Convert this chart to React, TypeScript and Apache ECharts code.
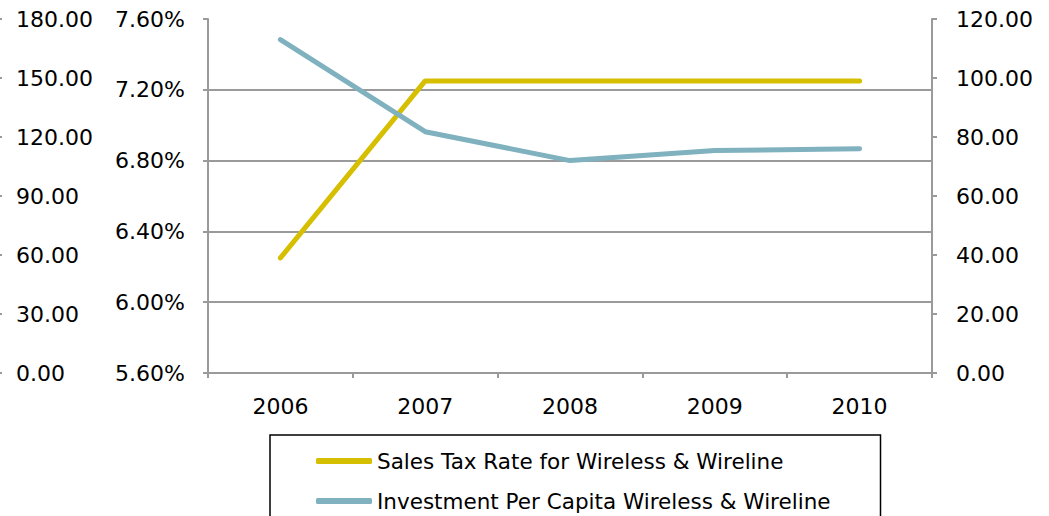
import React, { useEffect, useRef } from "react";
import * as echarts from "echarts";

const years = ["2006", "2007", "2008", "2009", "2010"];
const salesTaxRate = [6.25, 7.25, 7.25, 7.25, 7.25];
const investmentPerCapita = [113.0, 81.8, 72.0, 75.4, 76.0];
const seriesNames = [
  "Sales Tax Rate for Wireless & Wireline",
  "Investment Per Capita Wireless & Wireline",
];

const FONT = "DejaVu Sans";
const GREY = "#9a9a9a";

export default function App() {
  const ref = useRef<HTMLDivElement>(null);
  useEffect(() => {
    document.body.style.margin = "0";
    document.body.style.overflow = "hidden";
    if (!ref.current) return;
    const chart = echarts.init(ref.current, null, { renderer: "svg" });
    const labelStyle = { color: "#000", fontFamily: FONT, fontSize: 22 };
    chart.setOption({
      animation: false,
      backgroundColor: "#fff",
      grid: { left: 208, right: 117, top: 19, bottom: 143 },
      xAxis: {
        type: "category",
        data: years,
        boundaryGap: true,
        axisLine: { lineStyle: { color: GREY, width: 2 } },
        axisTick: { show: true, length: 5, lineStyle: { color: GREY, width: 2 } },
        axisLabel: { ...labelStyle, margin: 22 },
        splitLine: { show: false },
      },
      yAxis: [
        {
          type: "value",
          position: "left",
          min: 5.6,
          max: 7.6,
          interval: 0.4,
          axisLine: { show: true, lineStyle: { color: GREY, width: 2 } },
          axisTick: { show: true, length: 5, lineStyle: { color: GREY, width: 2 } },
          axisLabel: {
            ...labelStyle,
            margin: 23,
            formatter: (v: number) => v.toFixed(2) + "%",
          },
          splitLine: {
            show: true,
            showMinLine: false,
            showMaxLine: false,
            lineStyle: { color: GREY, width: 2 },
          },
        },
        {
          type: "value",
          position: "right",
          min: 0,
          max: 120,
          interval: 20,
          axisLine: { show: true, lineStyle: { color: GREY, width: 2 } },
          axisTick: { show: true, length: 5, lineStyle: { color: GREY, width: 2 } },
          axisLabel: {
            ...labelStyle,
            margin: 24,
            formatter: (v: number) => v.toFixed(2),
          },
          splitLine: { show: false },
        },
        {
          type: "value",
          position: "left",
          offset: 210,
          min: 0,
          max: 180,
          interval: 30,
          axisLine: { show: true, lineStyle: { color: GREY, width: 2 } },
          axisTick: { show: true, inside: true, length: 4, lineStyle: { color: GREY, width: 2 } },
          axisLabel: {
            ...labelStyle,
            inside: true,
            margin: 18,
            formatter: (v: number) => v.toFixed(2),
          },
          splitLine: { show: false },
        },
      ],
      legend: {
        orient: "vertical",
        left: 270,
        top: 435,
        height: 200,
        padding: [14, 50, 20, 46],
        borderColor: "#000",
        borderWidth: 1.5,
        backgroundColor: "#fff",
        itemWidth: 56,
        itemHeight: 6,
        itemGap: 16,
        icon: "roundRect",
        textStyle: { color: "#000", fontFamily: FONT, fontSize: 21.5, lineHeight: 24 },
        data: seriesNames,
      },
      series: [
        {
          name: seriesNames[0],
          type: "line",
          yAxisIndex: 0,
          data: salesTaxRate,
          symbol: "none",
          color: "#D6BE00",
          lineStyle: { width: 5, cap: "round", join: "round", color: "#D6BE00" },
        },
        {
          name: seriesNames[1],
          type: "line",
          yAxisIndex: 1,
          data: investmentPerCapita,
          symbol: "none",
          color: "#7FB1BF",
          lineStyle: { width: 5, cap: "round", join: "round", color: "#7FB1BF" },
        },
      ],
    });
    return () => chart.dispose();
  }, []);
  return <div ref={ref} style={{ width: 1049, height: 516 }} />;
}
